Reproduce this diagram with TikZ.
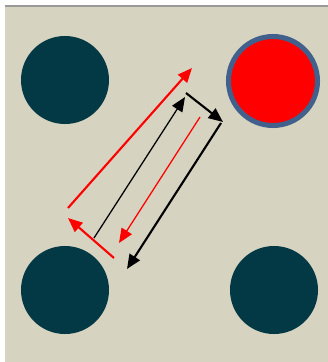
\documentclass[tikz,border=0pt]{standalone}
\usepackage{xcolor}
\usetikzlibrary{arrows.meta, calc}

\definecolor{nen}{RGB}{214,211,193}
\definecolor{vien}{RGB}{66,96,140}
\definecolor{hat}{RGB}{3,56,69}

\tikzset{
    hat/.style={circle, fill=hat, minimum size=2.2cm, inner sep=0pt},
    muiten/.style={-{Triangle[length=0.36cm, width=0.3cm]}},
}

\begin{document}
\begin{tikzpicture}[x=0.025cm, y=-0.025cm]
    % 1. Nền và khung
    \useasboundingbox (0,0) rectangle (328,362);
    \fill[nen] (5,6) rectangle (328,362);
    \draw[gray!80, line width=1.2pt] (5,6) -- (328,6);

    % 2. Các hạt
    \node[hat] (A) at (65,80) {};
    \node[hat] (C) at (65,290) {};
    \node[hat] (D) at (274,290) {};
    \node[circle, fill=red, draw=vien, line width=0.125cm,
          minimum size=2.225cm, inner sep=0pt] (B) at (273,81) {};

    % 3. Các điểm đầu mút
    \coordinate (r1) at (68,208);   \coordinate (r2) at (192,68);
    \coordinate (r3) at (114,258);  \coordinate (r4) at (68,218);
    \coordinate (k1) at (94,238);   \coordinate (k2) at (185,97);
    \coordinate (k3) at (186,93);   \coordinate (k4) at (223,122);
    \coordinate (r5) at (200,117);  \coordinate (r6) at (119,243);
    \coordinate (k5) at (221,123);  \coordinate (k6) at (127,269);

    % 4. Các mũi tên
    \draw[muiten, red, line width=1.5pt] (r1) -- (r2);
    \draw[muiten, red, line width=1.5pt] (r3) -- (r4);
    \draw[muiten, black, line width=0.9pt] (k1) -- (k2);
    \draw[muiten, black, line width=1.5pt] (k3) -- (k4);
    \draw[muiten, red, line width=0.9pt] (r5) -- (r6);
    \draw[muiten, black, line width=1.5pt] (k5) -- (k6);
\end{tikzpicture}
\end{document}
